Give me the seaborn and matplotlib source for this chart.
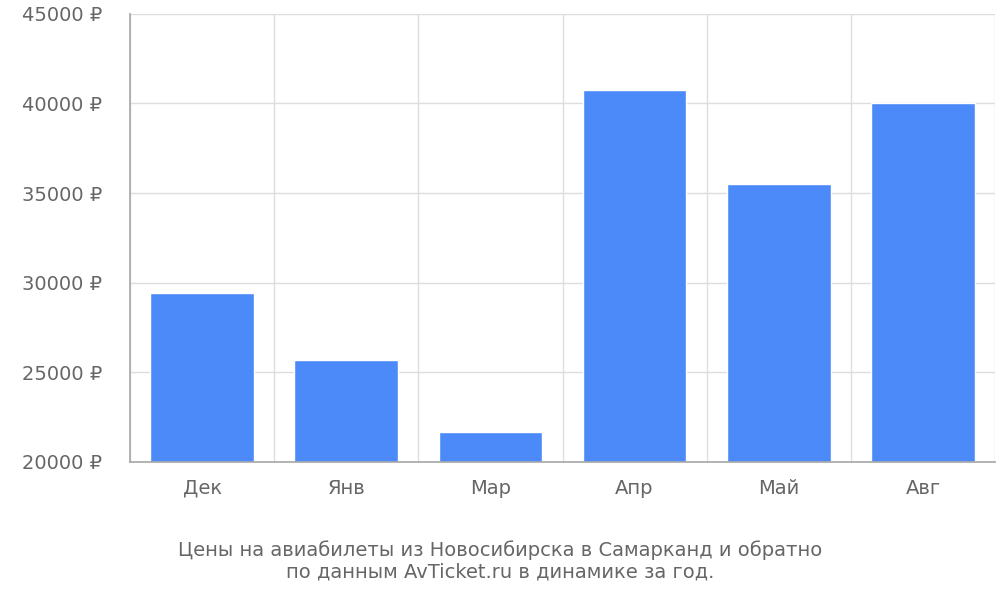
import matplotlib
matplotlib.use("Agg")
import matplotlib.pyplot as plt
import seaborn as sns
import numpy as np
from matplotlib.ticker import FixedLocator, FuncFormatter

months = ["Дек", "Янв", "Мар", "Апр", "Май", "Авг"]
prices = [29400, 25700, 21700, 40750, 35500, 40050]
yticks = [20000, 25000, 30000, 35000, 40000, 45000]

sns.set_theme(style="white")
plt.rcParams['font.family'] = ['DejaVu Sans']

fig = plt.figure(figsize=(10, 6), dpi=100)
ax = fig.add_axes([0.13, 0.23, 0.865, 0.747])
sns.barplot(x=months, y=prices, color="#4d8af9", width=0.72, saturation=1, ax=ax)
ax.set_ylim(20000, 45000)
ax.set_xlim(-0.5, len(months) - 0.5)
ax.set_yticks(yticks)
ax.yaxis.set_major_formatter(FuncFormatter(lambda v, p: f"{int(v)} ₽"))
ax.xaxis.set_minor_locator(FixedLocator(np.arange(-0.5, len(months), 1)))
ax.grid(True, axis="y", color="#dddddd", lw=1)
ax.grid(True, axis="x", which="minor", color="#dddddd", lw=1)
ax.set_axisbelow(True)
ax.tick_params(axis="x", which="major", length=0, labelsize=14, labelcolor="#666666", pad=12)
ax.tick_params(axis="x", which="minor", length=13, color="#bbbbbb", width=1)
ax.tick_params(axis="y", length=0, labelsize=14, labelcolor="#666666", pad=20)
for s in ["top", "right"]:
    ax.spines[s].set_visible(False)
for s in ["left", "bottom"]:
    ax.spines[s].set_color("#aaaaaa")
ax.spines["left"].set_bounds(20000, 45000)
fig.text(0.5, 0.065, "Цены на авиабилеты из Новосибирска в Самарканд и обратно\nпо данным AvTicket.ru в динамике за год.",
         ha="center", va="center", fontsize=14, color="#666666", linespacing=1.2)
fig.savefig("out.png", dpi=100)
